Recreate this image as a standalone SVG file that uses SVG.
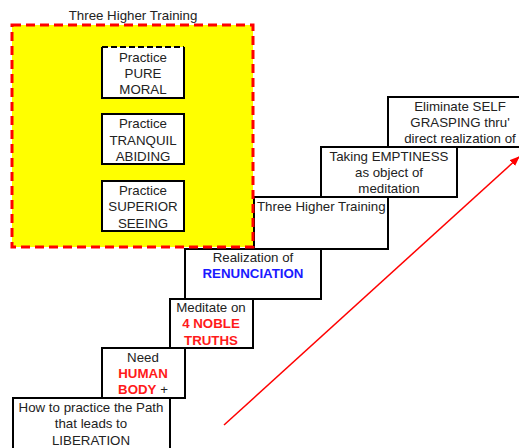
<svg xmlns="http://www.w3.org/2000/svg" width="519" height="448" viewBox="0 0 519 448">
<defs>
<style>
.t{font-family:"Liberation Sans",Arial,sans-serif;font-size:13.3px;fill:#222;text-anchor:middle}
.l{text-anchor:start}
.b{font-weight:bold}
.red{fill:#ff1a1a}
.blue{fill:#1a1aff}
.box{fill:#fff;stroke:#000;stroke-width:2}
</style>
<marker id="ah" markerWidth="10" markerHeight="8" refX="9" refY="4" orient="auto" markerUnits="userSpaceOnUse">
<path d="M0,0 L10,4 L0,8 z" fill="#ff0000"/>
</marker>
</defs>
<rect width="519" height="448" fill="#fff"/>
<g id="step1">
<rect class="box" x="13" y="398" width="157" height="60"/>
<text class="t" x="91" y="412">How to practice the Path</text>
<text class="t" x="91" y="428">that leads to</text>
<text class="t" x="91" y="445">LIBERATION</text>
</g>
<g id="step2">
<rect class="box" x="102" y="348" width="83" height="50"/>
<text class="t" x="143" y="362">Need</text>
<text class="t b red" x="143" y="378">HUMAN</text>
<text class="t" x="143" y="394"><tspan class="b red">BODY</tspan> +</text>
</g>
<g id="step3">
<rect class="box" x="170" y="299" width="83" height="49"/>
<text class="t" x="211" y="312">Meditate on</text>
<text class="t b red" x="211" y="328">4 NOBLE</text>
<text class="t b red" x="211" y="345">TRUTHS</text>
</g>
<g id="step4">
<rect class="box" x="185" y="249" width="136" height="50"/>
<text class="t" x="253" y="262">Realization of</text>
<text class="t b blue" x="253" y="278">RENUNCIATION</text>
</g>
<g id="step5">
<rect class="box" x="254" y="197" width="134" height="52"/>
<text class="t l" x="257" y="211">Three Higher Training</text>
</g>
<g id="step6">
<rect class="box" x="321" y="147" width="136" height="50"/>
<text class="t" x="389" y="161">Taking EMPTINESS</text>
<text class="t" x="389" y="177">as object of</text>
<text class="t" x="389" y="193">meditation</text>
</g>
<g id="step7">
<rect class="box" x="388" y="97" width="140" height="50"/>
<text class="t" x="460" y="111">Eliminate SELF</text>
<text class="t" x="460" y="127">GRASPING thru'</text>
<text class="t" x="460" y="143">direct realization of</text>
</g>
<g id="training">
<rect x="12" y="25" width="241" height="222" fill="#ffff00" stroke="#ff0000" stroke-width="3" stroke-dasharray="9,5"/>
<text class="t" x="133" y="20">Three Higher Training</text>
</g>
<g id="moral">
<rect x="102" y="47" width="82" height="51" fill="#fff"/>
<path d="M102,47 V98 H184 V47" fill="none" stroke="#000" stroke-width="2"/>
<path d="M102,47 H184" fill="none" stroke="#000" stroke-width="2" stroke-dasharray="6,3"/>
<text class="t" x="143" y="62">Practice</text>
<text class="t" x="143" y="78">PURE</text>
<text class="t" x="143" y="94">MORAL</text>
</g>
<g id="tranquil">
<rect class="box" x="102" y="114" width="82" height="50"/>
<text class="t" x="143" y="128">Practice</text>
<text class="t" x="143" y="145">TRANQUIL</text>
<text class="t" x="143" y="161">ABIDING</text>
</g>
<g id="seeing">
<rect class="box" x="102" y="181" width="82" height="50"/>
<text class="t" x="143" y="195">Practice</text>
<text class="t" x="143" y="211">SUPERIOR</text>
<text class="t" x="143" y="228">SEEING</text>
</g>
<g id="connectors">
<line x1="224" y1="425" x2="519" y2="157" stroke="#ff0000" stroke-width="1.5" marker-end="url(#ah)"/>
</g>
</svg>
